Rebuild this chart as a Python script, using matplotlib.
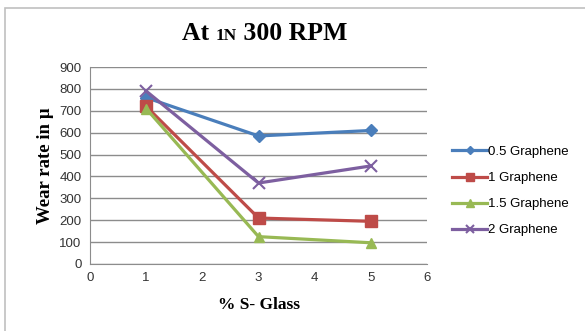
import numpy as np
import matplotlib
matplotlib.use("Agg")
import matplotlib.pyplot as plt
from matplotlib.offsetbox import TextArea, HPacker, AnnotationBbox
from matplotlib.patches import Rectangle

glass = [1, 3, 5]
series_names = ["0.5 Graphene", "1 Graphene", "1.5 Graphene", "2 Graphene"]
g05 = [760, 585, 610]
g10 = [720, 210, 195]
g15 = [710, 125, 97]
g20 = [790, 370, 448]
xticks = [0, 1, 2, 3, 4, 5, 6]
yticks = [0, 100, 200, 300, 400, 500, 600, 700, 800, 900]

colors = ["#4A7EBB", "#BE4B48", "#98B954", "#7D5FA0"]
markers = ["D", "s", "^", "x"]
msizes = [6, 8, 7, 8]

fig = plt.figure(figsize=(5.85, 3.31), dpi=100)
fig.patches.append(Rectangle((5 / 585, -0.1), 1.0, 1 - 8 / 331 + 0.1,
                             transform=fig.transFigure, fill=False,
                             edgecolor="#c0c0c0", linewidth=1.2))

ax = fig.add_axes([90 / 585, 1 - 264 / 331, 337 / 585, 197 / 331])
for vals, name, c, m, ms in zip([g05, g10, g15, g20], series_names, colors, markers, msizes):
    ax.plot(glass, vals, color=c, marker=m, markersize=ms, linewidth=2.3,
            markeredgewidth=1.5 if m == "x" else 1, label=name)

ax.set_xlim(0, 6)
ax.set_ylim(0, 900)
ax.set_xticks(xticks)
ax.set_yticks(yticks)
ax.yaxis.grid(True, color="#8c8c8c", linewidth=1)
ax.set_axisbelow(True)
for s in ["top", "right"]:
    ax.spines[s].set_visible(False)
for s in ["left", "bottom"]:
    ax.spines[s].set_color("#8c8c8c")
ax.tick_params(length=0, labelsize=9.5, colors="#333333", pad=6)
for lab in ax.get_xticklabels() + ax.get_yticklabels():
    lab.set_fontfamily("Liberation Sans")

ax.set_ylabel("Wear rate in µ", fontfamily="Liberation Serif", fontweight="bold",
              fontsize=13.5, labelpad=4)
ax.set_xlabel("% S- Glass", fontfamily="Liberation Serif", fontweight="bold",
              fontsize=12.5, labelpad=9)

leg = ax.legend(loc="center left", bbox_to_anchor=(1.04, 0.37), frameon=False,
                prop={"family": "Liberation Sans", "size": 9.5}, handlelength=2.6,
                handletextpad=0.1, labelspacing=1.05, markerscale=0.75)

big = dict(fontfamily="Liberation Serif", fontweight="bold", fontsize=18.5)
parts = [TextArea("At ", textprops=big),
         TextArea("1N", textprops=dict(fontfamily="Liberation Serif", fontweight="bold", fontsize=12.5)),
         TextArea(" 300 RPM", textprops=big)]
box = HPacker(children=parts, align="baseline", pad=0, sep=0)
ab = AnnotationBbox(box, (265 / 585, 1 - 33 / 331), xycoords="figure fraction",
                    frameon=False, box_alignment=(0.5, 0.5))
fig.add_artist(ab)

fig.savefig("out.png", dpi=100)
